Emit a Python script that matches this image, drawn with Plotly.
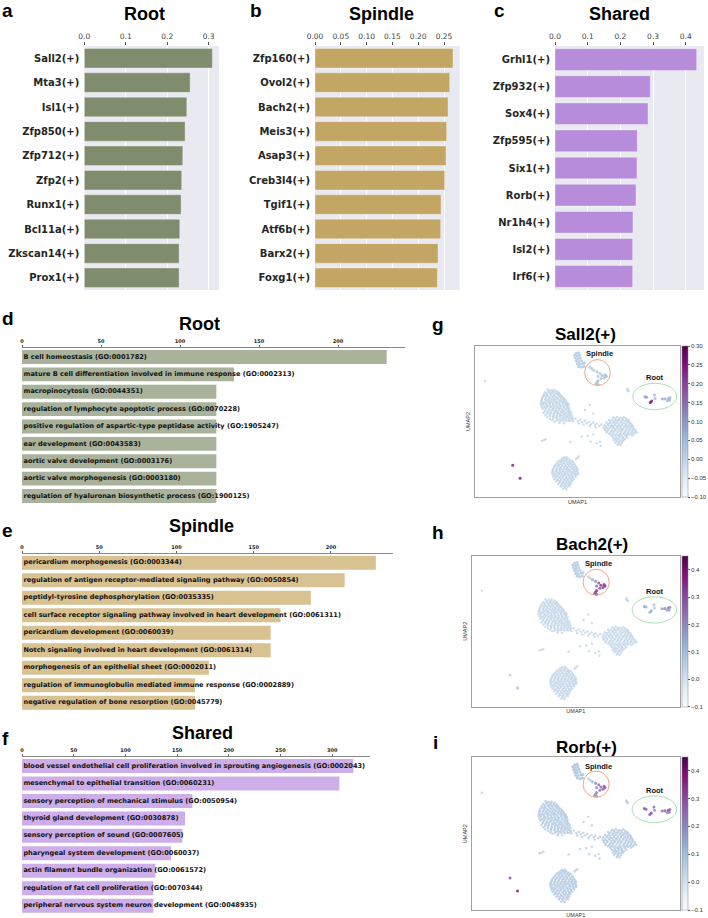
import plotly.graph_objects as go

W, H = 708, 918

# top bar charts
root_tfs = ['Sall2(+)', 'Mta3(+)', 'Isl1(+)', 'Zfp850(+)', 'Zfp712(+)', 'Zfp2(+)', 'Runx1(+)', 'Bcl11a(+)', 'Zkscan14(+)', 'Prox1(+)']
root_scores = [0.309, 0.2553, 0.2473, 0.2432, 0.2376, 0.235, 0.2335, 0.2303, 0.2287, 0.2287]
spindle_tfs = ['Zfp160(+)', 'Ovol2(+)', 'Bach2(+)', 'Meis3(+)', 'Asap3(+)', 'Creb3l4(+)', 'Tgif1(+)', 'Atf6b(+)', 'Barx2(+)', 'Foxg1(+)']
spindle_scores = [0.2674, 0.261, 0.2578, 0.2552, 0.2539, 0.2513, 0.2442, 0.2436, 0.2384, 0.2371]
shared_tfs = ['Grhl1(+)', 'Zfp932(+)', 'Sox4(+)', 'Zfp595(+)', 'Six1(+)', 'Rorb(+)', 'Nr1h4(+)', 'Isl2(+)', 'Irf6(+)']
shared_scores = [0.4333, 0.2915, 0.2844, 0.2517, 0.2507, 0.2477, 0.2385, 0.2375, 0.2375]

# GO term bars
root_terms = ['B cell homeostasis (GO:0001782)', 'mature B cell differentiation involved in immune response (GO:0002313)',
              'macropinocytosis (GO:0044351)', 'regulation of lymphocyte apoptotic process (GO:0070228)',
              'positive regulation of aspartic-type peptidase activity (GO:1905247)', 'ear development (GO:0043583)',
              'aortic valve development (GO:0003176)', 'aortic valve morphogenesis (GO:0003180)',
              'regulation of hyaluronan biosynthetic process (GO:1900125)']
root_go = [230.8, 134.2, 123, 123, 123, 123, 123, 123, 123]
spindle_terms = ['pericardium morphogenesis (GO:0003344)', 'regulation of antigen receptor-mediated signaling pathway (GO:0050854)',
                 'peptidyl-tyrosine dephosphorylation (GO:0035335)',
                 'cell surface receptor signaling pathway involved in heart development (GO:0061311)',
                 'pericardium development (GO:0060039)', 'Notch signaling involved in heart development (GO:0061314)',
                 'morphogenesis of an epithelial sheet (GO:0002011)',
                 'regulation of immunoglobulin mediated immune response (GO:0002889)',
                 'negative regulation of bone resorption (GO:0045779)']
spindle_go = [229.1, 208.9, 187, 167.4, 161, 161, 121, 112, 112]
shared_terms = ['blood vessel endothelial cell proliferation involved in sprouting angiogenesis (GO:0002043)',
                'mesenchymal to epithelial transition (GO:0060231)', 'sensory perception of mechanical stimulus (GO:0050954)',
                'thyroid gland development (GO:0030878)', 'sensory perception of sound (GO:0007605)',
                'pharyngeal system development (GO:0060037)', 'actin filament bundle organization (GO:0061572)',
                'regulation of fat cell proliferation (GO:0070344)', 'peripheral nervous system neuron development (GO:0048935)']
shared_go = [320.4, 306.9, 164.7, 157.6, 155, 144.2, 129, 127, 127]

# UMAP cells, in percent of the frame
blob_a = [(35.4,71.2),(37,70.8),(38.4,71),(34.3,69.4),(35.9,69.7),(37.6,69.3),(39.2,69.6),(40.6,69.2),
          (33.7,68),(35.2,67.7),(36.8,68.2),(38.5,67.9),(40.1,68.1),(41.5,67.7),(33,66.4),(34.6,66.7),(36.2,66.2),(37.7,66.5),(39.4,66.3),(41,66.6),(42.5,66.2),
          (32.6,64.8),(34.1,65),(35.7,64.6),(37.3,64.9),(38.9,64.7),(40.5,65),(42.1,64.6),(43.4,64.9),
          (32.2,63.2),(33.8,63),(35.3,63.4),(36.9,63.1),(38.5,63.3),(40,63),(41.6,63.4),(43.2,63.1),(44.3,63.3),
          (32,61.6),(33.5,61.8),(35,61.4),(36.6,61.7),(38.2,61.5),(39.7,61.8),(41.3,61.4),(42.9,61.7),(44.4,61.5),(45.2,61.8),
          (32.4,60),(34,59.8),(35.6,60.2),(37.2,59.9),(38.8,60.1),(40.3,59.8),(41.9,60.2),(43.5,59.9),(45,60.1),
          (33,58.4),(34.6,58.6),(36.2,58.2),(37.8,58.5),(39.4,58.3),(40.9,58.6),(42.5,58.2),(44.1,58.5),(45.6,58.3),
          (34,56.8),(35.6,56.6),(37.2,57),(38.8,56.7),(40.3,56.9),(41.9,56.6),(43.4,57),(45,56.7),(46.4,56.9),
          (35.2,55.2),(36.8,55.4),(38.4,55),(40,55.3),(41.5,55.1),(43,55.4),(44.6,55),(46,55.3),
          (36.6,53.6),(38.2,53.4),(39.8,53.8),(41.3,53.5),(42.9,53.7),(44.4,53.4),(46,53.8),(47.4,53.5),
          (38.2,52),(39.8,52.2),(41.4,51.8),(42.9,52.1),(44.5,51.9),(46,52.2),(47.6,51.8),
          (39.8,50.4),(41.5,50.2),(43,50.6),(44.6,50.3),(46.2,50.5),(47.8,50.2),(41.2,49),(43.4,48.9),
          (33.4,55.7),(34.4,54.2),(35.3,52.9),(36.6,51.8),(37.7,50.9),(38.7,49.9)]
blob_a_fill = [(36.2,70.2),(38,70.1),(39.8,70.4),(34.9,68.7),(36.3,69),(37.9,68.8),(39.5,68.6),(41,68.5),
               (33.6,67.2),(35.4,67.1),(37.1,67.4),(38.8,67),(40.6,67.3),(42.1,67),(32.9,65.6),(34.8,65.7),(36.5,65.5),(38.2,65.9),(40,65.4),(41.7,65.7),(43.2,65.5),
               (32.6,64),(34.4,64.2),(36.2,63.9),(37.9,64.1),(39.6,63.8),(41.2,64.1),(42.9,63.9),(44.1,64.2),
               (32.8,62.4),(34.5,62.3),(36.2,62.6),(37.8,62.2),(39.3,62.5),(40.9,62.3),(42.5,62.6),(44,62.3),(45,62.5),
               (33,60.9),(34.8,60.7),(36.5,61),(38.1,60.6),(39.8,60.9),(41.4,60.6),(43,61),(44.7,60.7),(45.7,60.9),
               (33.3,59.2),(35,59.1),(36.7,59.4),(38.4,59),(40,59.3),(41.6,59),(43.3,59.4),(44.9,59.1),(46,59.3),
               (34.3,57.6),(36.1,57.5),(37.9,57.8),(39.6,57.4),(41.2,57.7),(42.9,57.4),(44.5,57.8),(46,57.5),
               (35.4,56),(37.1,55.9),(38.9,56.2),(40.6,55.8),(42.3,56.1),(43.9,55.8),(45.6,56.1),(47,55.9),
               (36.5,54.5),(38.4,54.3),(40.1,54.6),(41.9,54.2),(43.6,54.5),(45.3,54.2),(46.9,54.6),
               (38,52.9),(39.7,52.8),(41.5,53),(43.3,52.7),(45,53),(46.8,52.7),(40.4,51.2),(42.2,51.1),(44,51.3),(45.7,51),(47.2,51.1)]
bridge = [(49,52),(50.2,50.4),(51.4,51.2),(52.3,49.6),(53.6,50.5),(54.4,48.9),(55.5,49.8),(56.6,48.2),(57.6,49.2),
          (58.6,47.6),(59.4,48.6),(60.6,47),(61.6,48),(50.6,48.8),(53,47.9),(56,47.2),(59,46.1)]
blob_b = [(67.5,52.6),(69.2,52.9),(71,52.4),(72.7,52.7),(65.4,51),(67,51.2),(68.8,50.8),(70.4,51.1),(72.2,50.9),(74,51.2),(75,50.8),
          (64,49.3),(65.8,49.1),(67.5,49.5),(69.2,49.2),(71,49.4),(72.6,49.1),(74.3,49.5),(75.7,49.2),
          (63.2,47.6),(65,47.8),(66.6,47.4),(68.4,47.7),(70,47.5),(71.7,47.8),(73.4,47.4),(75,47.7),(76.5,47.5),
          (62.8,46),(64.4,45.8),(66.1,46.2),(67.8,45.9),(69.5,46.1),(71.2,45.8),(72.8,46.2),(74.5,45.9),(76,46.1),(77.3,45.8),
          (63.4,44.3),(65,44.5),(66.8,44.1),(68.4,44.4),(70.2,44.2),(71.8,44.5),(73.6,44.1),(75.2,44.4),(76.8,44.2),(78.2,44.5),
          (64.2,42.6),(66,42.4),(67.6,42.8),(71,42.5),(73,42.7),(74.6,42.4),(76.2,42.8),(77.8,42.5),(79,42.7),
          (66.4,41),(68.2,41.2),(69.8,40.8),(71.4,41.1),(73.2,40.9),(75,41.2),(76.6,40.8),
          (67.4,39.3),(69,39.1),(70.6,39.5),(72.2,39.2),(74.2,39.4),(67.8,37.6),(69.4,37.8),(71,37.4),(72.6,37.7),
          (68.4,36),(70,36.2),(71.6,35.8),(69.6,34.6),(71,34.4)]
blob_b_fill = [(68.3,51.9),(70.1,52),(71.9,51.8),(73.6,52),(66.1,50.3),(67.9,50.1),(69.7,50.4),(71.4,50.2),(73.2,50.3),(74.8,50.1),
               (64.8,48.6),(66.6,48.5),(68.3,48.7),(70.1,48.4),(71.8,48.6),(73.6,48.3),(75.2,48.6),(76.3,48.4),
               (63.9,46.9),(65.7,46.8),(67.4,47),(69.2,46.7),(70.9,46.9),(72.6,46.6),(74.2,46.9),(75.9,46.7),(77,46.9),
               (63.5,45.2),(65.2,45.1),(67,45.3),(68.8,45),(70.5,45.2),(72.2,44.9),(74,45.2),(75.7,45),(77.2,45.1),
               (64.4,43.5),(66.2,43.3),(67.9,43.6),(69.6,43.2),(71.4,43.5),(73.2,43.3),(74.9,43.5),(76.6,43.2),(78.3,43.5),
               (65.4,41.9),(67.2,41.7),(69,41.9),(70.6,41.6),(72.4,41.9),(74,41.7),(75.8,41.8),(77.3,41.6),
               (67,40.2),(68.7,40.1),(70.4,40.3),(72,40),(73.8,40.2),(68.3,38.5),(70,38.4),(71.8,38.6),(73.2,38.4),
               (68.9,36.9),(70.6,36.8),(72,37),(70.2,35.3)]
blob_c = [(43.4,26.2),(44.6,26.5),(41.8,24.6),(43.2,24.4),(44.8,24.8),(46.2,24.5),(40.4,23),(42,23.2),(43.6,22.8),(45.2,23.1),(46.6,22.9),(47.8,23.2),
          (39.4,21.4),(41,21.2),(42.6,21.6),(44.2,21.3),(45.8,21.5),(47.4,21.2),(48.6,21.6),
          (38.6,19.8),(40.2,20),(41.8,19.6),(43.4,19.9),(45,19.7),(46.6,20),(48.2,19.6),(49.4,19.9),
          (38,18.2),(39.6,18),(41.2,18.4),(42.8,18.1),(44.4,18.3),(46,18),(47.6,18.4),(49,18.1),(50,18.3),
          (37.6,16.6),(39.2,16.8),(40.8,16.4),(42.4,16.7),(44,16.5),(45.6,16.8),(47.2,16.4),(48.8,16.7),(50.2,16.5),
          (37.8,15),(39.4,14.8),(41,15.2),(42.6,14.9),(44.2,15.1),(45.8,14.8),(47.4,15.2),(49,14.9),(50.2,15.1),
          (38.2,13.4),(39.8,13.6),(41.4,13.2),(43,13.5),(44.6,13.3),(46.2,13.6),(47.8,13.2),(49.2,13.5),
          (38.8,11.8),(40.4,11.6),(42,12),(43.6,11.7),(45.2,11.9),(46.8,11.6),(48.2,12),
          (39.6,10.2),(41.2,10.4),(42.8,10),(44.4,10.3),(46,10.1),(47.4,10.4),
          (40.6,8.6),(42.2,8.4),(43.8,8.8),(45.4,8.5),(46.8,8.7),(41.8,7),(43.4,7.2),(45,6.8),(46.2,7.1),(43,5.4),(44.6,5.1)]
blob_c_fill = [(42.6,25.5),(44,25.4),(45.4,25.6),(41,23.9),(42.7,23.8),(44.4,24),(46,23.7),(47.2,23.9),
               (40,22.2),(41.7,22.1),(43.4,22.3),(45,22),(46.6,22.2),(48.2,22),(39,20.6),(40.7,20.5),(42.4,20.7),(44.1,20.4),(45.7,20.6),(47.4,20.4),(48.9,20.6),
               (38.4,19),(40,18.9),(41.7,19.1),(43.4,18.8),(45,19),(46.7,18.8),(48.3,19),(49.7,18.8),
               (38,17.4),(39.7,17.3),(41.4,17.5),(43.1,17.2),(44.8,17.4),(46.4,17.2),(48,17.4),(49.6,17.2),
               (38.4,15.8),(40.1,15.7),(41.8,15.9),(43.5,15.6),(45.1,15.8),(46.8,15.6),(48.4,15.8),(49.9,15.6),
               (38.7,14.2),(40.4,14.1),(42.1,14.3),(43.8,14),(45.5,14.2),(47.2,14),(48.8,14.2),
               (39.3,12.6),(41,12.5),(42.7,12.7),(44.4,12.4),(46.1,12.6),(47.6,12.4),(40.1,11),(41.9,10.9),(43.6,11.1),(45.3,10.8),(47,11),
               (41.2,9.4),(43,9.3),(44.7,9.5),(46.3,9.3),(42.4,7.8),(44.2,7.7),(45.8,7.9),(43.9,6.1)]
blob_d = [(49.4,95.2),(50.6,95.5),(48.6,93.8),(49.9,93.4),(51,93.9),(48.9,92),(50.2,91.6),(51.4,92.1),(49.4,90.2),(50.7,89.7),(52,90.3),
          (49.9,88.2),(51.2,87.9),(52.5,88.4),(50.6,86.4),(52,86),(53.2,86.5),(53.3,88.8)]
small_groups = [(74.2,71.8),(74.7,71),(75,70),(74.4,70.5),(32.6,37.2),(33.6,37.6),(34.4,38.2),(46.5,36.4),(56,61),(57.7,55.4),(53.7,57.6),
                (49.3,25.2),(50,26),(50.7,26.8),(52,40),(55,40.6),(56.4,36.6),(61,36.6),(61.3,33.8),(57.7,41.5),(59.3,35.5),(4.9,76.8)]
spindle_cells = [(58,84),(59.5,83),(61,82),(62,80.5),(63.5,81),(64,80),(63,79),(61.5,78.5),(60,77),(59.5,76),(59,75),(60,74.5),(57,85),(56,86),(60,80)]
root_cells = [(82.9,66.4),(83.7,66),(87.5,67.5),(87.8,65.3),(86.2,63.6),(85.5,62.5),(91.4,64.9),(92.7,65),(94.3,65.3),(94.8,64),(93.8,63.8),(95.1,65.8)]
stray_cells = [(18.4,21),(22,12.4)]

# regulon activity per group of cells
sall2_spindle = [0.03, 0.04, 0.03, 0.05, 0.05, 0.06, 0.05, 0.04, 0.05, 0.04, 0.03, 0.05, 0.02, 0.02, 0.03]
bach2_spindle = [0.15, 0.22, 0.3, 0.33, 0.35, 0.36, 0.34, 0.32, 0.33, 0.35, 0.3, 0.28, 0.05, 0.05, 0.25]
rorb_spindle = [0.12, 0.2, 0.24, 0.26, 0.3, 0.3, 0.28, 0.25, 0.2, 0.2, 0.18, 0.16, 0.06, 0.06, 0.2]
sall2_root = [0.1, 0.1, 0.06, 0.06, 0.25, 0.28, 0.08, 0.06, 0.05, 0.06, 0.05, 0.06]
bach2_root = [0.16, 0.14, 0.1, 0.08, 0.15, 0.13, 0.18, 0.2, 0.22, 0.18, 0.15, 0.2]
rorb_root = [0.3, 0.28, 0.25, 0.2, 0.32, 0.3, 0.25, 0.28, 0.3, 0.25, 0.22, 0.26]
sall2_stray = [0.25, 0.27]
bach2_stray = [0.05, 0.12]
rorb_stray = [0.3, 0.4]
base_activity = [0.0, 0.03, 0.06]
cluster_d_activity = [0.03, 0.08, 0.1]
umap_titles = ['Sall2(+)', 'Bach2(+)', 'Rorb(+)']
cbar_ticks = [[-0.1, -0.05, 0, 0.05, 0.1, 0.15, 0.2, 0.25, 0.3], [-0.1, 0, 0.1, 0.2, 0.3, 0.4], [-0.1, 0, 0.1, 0.2, 0.3, 0.4]]
cbar_labels = [['\u22120.10', '\u22120.05', '0.00', '0.05', '0.10', '0.15', '0.20', '0.25', '0.30'],
               ['\u22120.1', '0.0', '0.1', '0.2', '0.3', '0.4'], ['\u22120.1', '0.0', '0.1', '0.2', '0.3', '0.4']]
cbar_max = [0.30, 0.452, 0.448]

SANS = 'Liberation Sans'
DEJA = 'DejaVu Sans'
fig = go.Figure()


def px(x):
    return x / W


def py(y):
    return 1 - y / H


def set_axes(n, left, top, right, bottom, xopts, yopts):
    sfx = '' if n == 1 else str(n)
    fig.layout['xaxis' + sfx] = dict(domain=[px(left), px(right)], anchor='y' + sfx, **xopts)
    fig.layout['yaxis' + sfx] = dict(domain=[py(bottom), py(top)], anchor='x' + sfx, **yopts)


def label(x, y, text, size, bold=True, family=SANS, color='black'):
    txt = '<b>%s</b>' % text if bold else text
    fig.add_annotation(xref='paper', yref='paper', x=px(x), y=py(y), text=txt, showarrow=False, borderpad=0,
                       font=dict(family=family, size=size, color=color), xanchor='center', yanchor='middle')


# panels a, b, c
top_panels = [
    (root_tfs, root_scores, '#7f8c6d', 84.3, 219, 0.325, [0, 0.1, 0.2, 0.3], ['0.0', '0.1', '0.2', '0.3']),
    (spindle_tfs, spindle_scores, '#c4a664', 315, 459.7, 0.2804, [0, 0.05, 0.1, 0.15, 0.2, 0.25], ['0.00', '0.05', '0.10', '0.15', '0.20', '0.25']),
    (shared_tfs, shared_scores, '#b78cdb', 555, 704, 0.4557, [0, 0.1, 0.2, 0.3, 0.4], ['0.0', '0.1', '0.2', '0.3', '0.4']),
]
n = 1
for tfs, scores, col, left, right, xmax, ticks, ticktext in top_panels:
    sfx = '' if n == 1 else str(n)
    fig.add_trace(go.Bar(x=scores, y=tfs, orientation='h', width=0.8, xaxis='x' + sfx, yaxis='y' + sfx,
                         marker=dict(color=col, line=dict(color='rgba(255,255,255,0.35)', width=1))))
    set_axes(n, left, 46, right, 290,
             dict(side='top', range=[0, xmax], tickvals=ticks, ticktext=ticktext, showgrid=True, gridcolor='white', gridwidth=1,
                  ticks='outside', ticklen=3, tickcolor='#555', tickwidth=1, zeroline=False, showline=False,
                  tickfont=dict(family=DEJA, size=7.5, color='#444')),
             dict(type='category', categoryorder='array', categoryarray=tfs, range=[len(tfs) - 0.5, -0.5], showgrid=False,
                  ticks='', showline=False, zeroline=False, ticklabelstandoff=4,
                  tickfont=dict(family=DEJA, size=10, color='#262626', weight='bold')))
    n += 1

# panels d, e, f
go_panels = [
    (root_terms, root_go, '#a9b39b', 348.3, 504.7, 405, 242.4, [0, 50, 100, 150, 200]),
    (spindle_terms, spindle_go, '#d9c291', 554, 711.4, 393.3, 240.4, [0, 50, 100, 150, 200]),
    (shared_terms, shared_go, '#cdaee8', 757.3, 914.4, 370, 336.5, [0, 50, 100, 150, 200, 250, 300]),
]
for terms, vals, col, top, bottom, right, xmax, ticks in go_panels:
    sfx = str(n)
    fig.add_trace(go.Bar(x=vals, y=terms, orientation='h', width=0.8, xaxis='x' + sfx, yaxis='y' + sfx,
                         marker=dict(color=col, line=dict(width=0))))
    fig.add_trace(go.Scatter(x=[xmax * 0.004] * len(terms), y=terms, mode='text', text=terms, textposition='middle right',
                             xaxis='x' + sfx, yaxis='y' + sfx, cliponaxis=False,
                             textfont=dict(family=DEJA, size=6.6, color='#111', weight='bold')))
    set_axes(n, 22, top, right, bottom,
             dict(side='top', range=[0, xmax], tickvals=ticks, showgrid=False, ticks='outside', ticklen=2, tickcolor='#666',
                  zeroline=False, showline=True, linecolor='#888', linewidth=1,
                  tickfont=dict(family=DEJA, size=5, color='#222', weight='bold')),
             dict(type='category', categoryorder='array', categoryarray=terms, range=[len(terms) - 0.5, -0.5],
                  showgrid=False, showticklabels=False, ticks='', showline=False, zeroline=False))
    n += 1

# panels g, h, i
umap_frames = [(475, 346, 680, 497), (471.7, 555.7, 680, 706.7), (471.7, 757.3, 680, 910)]
spindle_acts = [sall2_spindle, bach2_spindle, rorb_spindle]
root_acts = [sall2_root, bach2_root, rorb_root]
stray_acts = [sall2_stray, bach2_stray, rorb_stray]
background = blob_a + blob_a_fill + bridge + blob_b + blob_b_fill + blob_c + blob_c_fill + small_groups
root_circle_y = [(57.8, 75.3), (55.4, 72.8), (57.2, 74.7)]
spindle_label_y = [95, 94.7, 93.9]
root_label_y = [79, 76.6, 78.4]
title_pos = [(585.7, 334), (591.7, 544), (586, 747)]

for i, (left, top, right, bottom) in enumerate(umap_frames):
    sfx = str(n)
    pts = background + blob_d + spindle_cells + root_cells + stray_cells
    colors = ([base_activity[i]] * len(background) + [cluster_d_activity[i]] * len(blob_d)
              + spindle_acts[i] + root_acts[i] + stray_acts[i])
    sizes = [2.4] * len(background) + [3] * (len(blob_d) + len(spindle_cells) + len(root_cells) + len(stray_cells))
    fig.add_trace(go.Scatter(
        x=[p[0] for p in pts], y=[p[1] for p in pts], mode='markers', xaxis='x' + sfx, yaxis='y' + sfx,
        marker=dict(size=sizes, color=colors, colorscale='BuPu', cmin=-0.1, cmax=cbar_max[i], opacity=0.8, line=dict(width=0),
                    colorbar=dict(x=px(681.5), xanchor='left', y=py((top + bottom) / 2), yanchor='middle',
                                  len=(bottom - top) / H, lenmode='fraction', thickness=6, outlinecolor='#888', outlinewidth=0.5,
                                  tickvals=cbar_ticks[i], ticktext=cbar_labels[i], ticks='outside', ticklen=2, tickcolor='#555',
                                  tickfont=dict(family=SANS, size=6, color='#333'), xpad=0, ypad=0))))
    frame = dict(range=[0, 100], showgrid=False, zeroline=False, showticklabels=False, ticks='', showline=True, mirror=True,
                 linecolor='#a0a0a0', linewidth=1.4)
    set_axes(n, left, top, right, bottom,
             dict(title=dict(text='UMAP1', standoff=2, font=dict(family=SANS, size=5.5, color='#333')), **frame),
             dict(title=dict(text='UMAP2', standoff=2, font=dict(family=SANS, size=5.5, color='#333')), **frame))
    fig.add_shape(type='circle', xref='x' + sfx, yref='y' + sfx, x0=53.5, x1=66, y0=73.8, y1=91,
                  line=dict(color='#f0a58c', width=1))
    y0, y1 = root_circle_y[i]
    fig.add_shape(type='circle', xref='x' + sfx, yref='y' + sfx, x0=77, x1=98.4, y0=y0, y1=y1,
                  line=dict(color='#a8e0b4', width=1))
    fig.add_annotation(xref='x' + sfx, yref='y' + sfx, x=60.8, y=spindle_label_y[i], text='<b>Spindle</b>', showarrow=False,
                       font=dict(family=SANS, size=7.5, color='#111'))
    fig.add_annotation(xref='x' + sfx, yref='y' + sfx, x=88, y=root_label_y[i], text='<b>Root</b>', showarrow=False,
                       font=dict(family=SANS, size=7.5, color='#111'))
    label(title_pos[i][0], title_pos[i][1], umap_titles[i], 17)
    n += 1

# titles and panel letters
for x, y, t in [(144, 14, 'Root'), (381, 14, 'Spindle'), (619, 14, 'Shared'), (199, 324, 'Root'), (201, 526, 'Spindle'), (202, 733, 'Shared')]:
    label(x, y, t, 18)
for x, y, t in [(7, 11, 'a'), (256, 11, 'b'), (499, 11, 'c'), (8, 319, 'd'), (7, 530, 'e'), (5, 738, 'f'), (438, 325, 'g'), (438, 532, 'h'), (435, 742, 'i')]:
    label(x, y, t, 19)

# autoexpand off: colorbars must not push the shared plot area
fig.update_layout(width=W, height=H, margin=dict(l=0, r=0, t=0, b=0, autoexpand=False), showlegend=False, barmode='overlay',
                  paper_bgcolor='white', plot_bgcolor='white')
for k in ['', '2', '3']:
    fig.layout['xaxis' + k].update(layer='below traces')
    fig.add_shape(type='rect', xref='x%s domain' % k, yref='y%s domain' % k, x0=0, x1=1, y0=0, y1=1,
                  fillcolor='#e9e9f1', line=dict(width=0), layer='below')

fig.write_html("out.html", config=dict(displayModeBar=False),
               post_script="document.body.style.margin='0';document.body.style.overflow='hidden';")
